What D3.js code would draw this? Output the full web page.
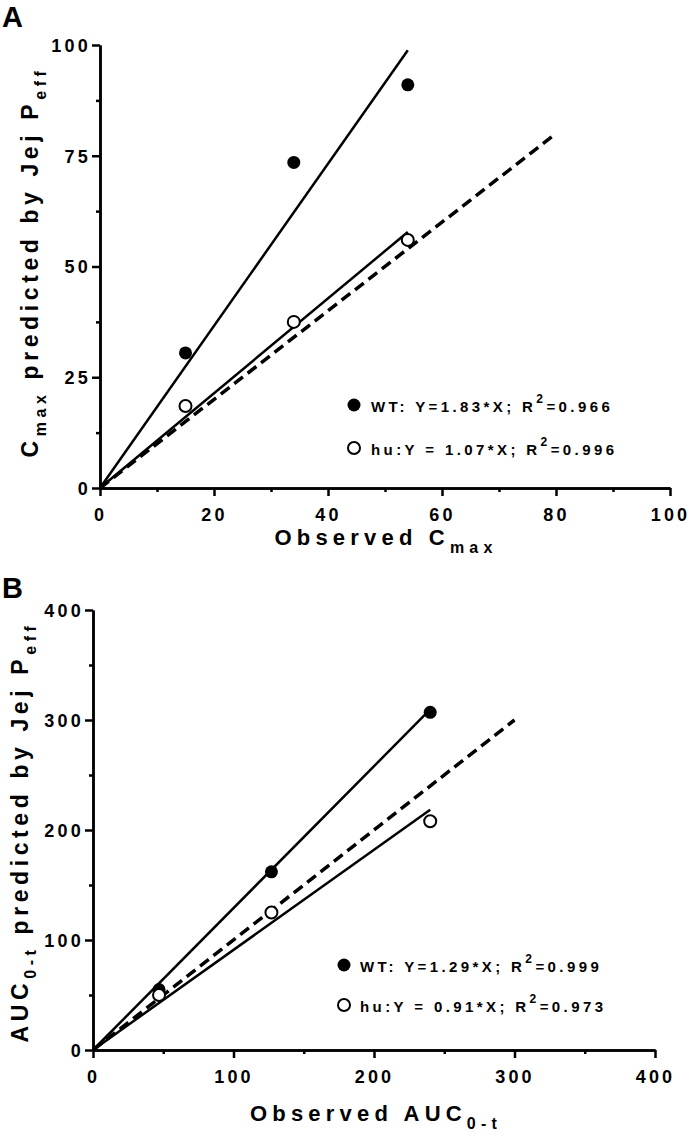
<!DOCTYPE html>
<html><head><meta charset="utf-8">
<script src="https://cdn.jsdelivr.net/npm/d3@7"></script>
<style>
body{margin:0;background:#fff;}
text{font-family:"Liberation Sans",Arial,sans-serif;font-weight:bold;fill:#000;}
</style></head>
<body>
<svg id="c" width="690" height="1136"></svg>
<script>
// Panel A data (Cmax)
const aObserved = [15, 34, 54];
const aWT = [30.5, 73.5, 91];
const aHu = [18.5, 37.5, 56];
const aSlopeWT = 1.83, aSlopeHu = 1.07;
const aFitEnd = 54, aIdentityEnd = 80;
const aTicks = [0, 20, 40, 60, 80, 100];
const aYTicks = [0, 25, 50, 75, 100];
// Panel B data (AUC)
const bObserved = [47, 127, 240];
const bWT = [55, 162, 307];
const bHu = [50, 125, 208];
const bSlopeWT = 1.29, bSlopeHu = 0.91;
const bFitEnd = 240, bIdentityEnd = 300;
const bTicks = [0, 100, 200, 300, 400];
const bYTicks = [0, 100, 200, 300, 400];
const legendA = ["WT: Y=1.83*X; R", "=0.966", "hu:Y = 1.07*X; R", "=0.996"];
const legendB = ["WT: Y=1.29*X; R", "=0.999", "hu:Y = 0.91*X; R", "=0.973"];

const svg = d3.select("#c");

function panel(cfg){
  const g = svg.append("g");
  const x = d3.scaleLinear().domain([0, cfg.max]).range([cfg.x0, cfg.x1]);
  const y = d3.scaleLinear().domain([0, cfg.max]).range([cfg.y0, cfg.y1]);
  const xMinor = d3.range(0, cfg.max + 0.001, cfg.xMinorStep).filter(v => !cfg.xTicks.includes(v));
  const yMinor = d3.range(0, cfg.max + 0.001, cfg.yMinorStep).filter(v => !cfg.yTicks.includes(v));
  const ax = g.append("g").attr("transform", `translate(0,${cfg.y0})`)
    .call(d3.axisBottom(x).tickValues(cfg.xTicks).tickSize(8).tickSizeOuter(0).tickPadding(12).tickFormat(d3.format("d")));
  g.append("g").attr("transform", `translate(0,${cfg.y0})`)
    .call(d3.axisBottom(x).tickValues(xMinor).tickSize(4).tickSizeOuter(0).tickFormat(""));
  const ay = g.append("g").attr("transform", `translate(${cfg.x0},0)`)
    .call(d3.axisLeft(y).tickValues(cfg.yTicks).tickSize(8).tickSizeOuter(0).tickPadding(1).tickFormat(d3.format("d")));
  g.append("g").attr("transform", `translate(${cfg.x0},0)`)
    .call(d3.axisLeft(y).tickValues(yMinor).tickSize(4).tickSizeOuter(0).tickFormat(""));
  g.selectAll(".domain").attr("stroke", "#000").attr("stroke-width", 2.5);
  g.selectAll(".tick line").attr("stroke", "#000").attr("stroke-width", 2.5);
  g.selectAll(".tick text")
    .style("font-size", "18px").style("letter-spacing", "3.2px")
    .style("font-family", "'Liberation Sans', Arial, sans-serif").style("font-weight", "bold").style("fill", "#000");
  ax.selectAll(".tick text").attr("dx", 0);
  ay.selectAll(".tick text").attr("dy", "0.36em");

  // identity dashed
  g.append("line").attr("x1", x(0)).attr("y1", y(0)).attr("x2", x(cfg.idEnd)).attr("y2", y(cfg.idEnd))
    .attr("stroke", "#000").attr("stroke-width", 3.5).attr("stroke-dasharray", "11,6");
  // fits
  [cfg.sWT, cfg.sHu].forEach(s => {
    g.append("line").attr("x1", x(0)).attr("y1", y(0)).attr("x2", x(cfg.fitEnd)).attr("y2", y(s * cfg.fitEnd))
      .attr("stroke", "#000").attr("stroke-width", 2.5);
  });
  // points
  g.selectAll(".wt").data(cfg.obs.map((o, i) => [o, cfg.wt[i]])).enter().append("circle")
    .attr("cx", d => x(d[0])).attr("cy", d => y(d[1])).attr("r", 6.5).attr("fill", "#000");
  g.selectAll(".hu").data(cfg.obs.map((o, i) => [o, cfg.hu[i]])).enter().append("circle")
    .attr("cx", d => x(d[0])).attr("cy", d => y(d[1])).attr("r", 6).attr("fill", "#fff")
    .attr("stroke", "#000").attr("stroke-width", 2);

  // legend
  const L = cfg.leg;
  g.append("circle").attr("cx", L.cx).attr("cy", L.y1 - 7).attr("r", 6.5).attr("fill", "#000");
  g.append("circle").attr("cx", L.cx).attr("cy", L.y2 - 7).attr("r", 6).attr("fill", "#fff").attr("stroke", "#000").attr("stroke-width", 2);
  [[L.y1, cfg.legText[0], cfg.legText[1]], [L.y2, cfg.legText[2], cfg.legText[3]]].forEach(([yy, a, b]) => {
    const t = g.append("text").attr("x", L.tx).attr("y", yy).style("font-size", "15px").style("letter-spacing", "3.4px");
    t.append("tspan").text(a);
    t.append("tspan").attr("dy", -9).style("font-size", "12px").text("2");
    t.append("tspan").attr("dy", 9).text(b);
  });

  // x title
  const xt = g.append("text").attr("x", cfg.xtX).attr("y", cfg.xtY).attr("text-anchor", "middle")
    .style("font-size", "22px").style("letter-spacing", "5.2px");
  xt.append("tspan").text(cfg.xt[0]);
  xt.append("tspan").attr("dy", 8).style("font-size", "16px").text(cfg.xt[1]);
  // y title
  const yt = g.append("text").attr("transform", `translate(${cfg.ytX},${cfg.ytY}) rotate(-90)`)
    .attr("text-anchor", "middle").style("font-size", "23px").style("letter-spacing", "4.6px");
  yt.append("tspan").text(cfg.yt[0]);
  yt.append("tspan").attr("dy", 8).style("font-size", "16px").text(cfg.yt[1]);
  yt.append("tspan").attr("dy", -8).text(cfg.yt[2]);
  yt.append("tspan").attr("dy", 8).style("font-size", "16px").text(cfg.yt[3]);
  // panel letter
  g.append("text").attr("x", cfg.letX).attr("y", cfg.letY).style("font-size", "29px").text(cfg.letter);
}

panel({max: 100, x0: 100, x1: 670, y0: 488, y1: 45, xTicks: aTicks, yTicks: aYTicks,
  xMinorStep: 10, yMinorStep: 12.5, obs: aObserved, wt: aWT, hu: aHu, sWT: aSlopeWT, sHu: aSlopeHu,
  fitEnd: aFitEnd, idEnd: aIdentityEnd, legText: legendA,
  leg: {cx: 354, tx: 371, y1: 412, y2: 455},
  xt: ["Observed C", "max"], xtX: 386, xtY: 545,
  yt: ["C", "max", " predicted by Jej P", "eff"], ytX: 38, ytY: 262,
  letter: "A", letX: 2, letY: 27});

panel({max: 400, x0: 93, x1: 655, y0: 1050, y1: 610, xTicks: bTicks, yTicks: bYTicks,
  xMinorStep: 50, yMinorStep: 50, obs: bObserved, wt: bWT, hu: bHu, sWT: bSlopeWT, sHu: bSlopeHu,
  fitEnd: bFitEnd, idEnd: bIdentityEnd, legText: legendB,
  leg: {cx: 344, tx: 360, y1: 972, y2: 1012},
  xt: ["Observed AUC", "0-t"], xtX: 376, xtY: 1121,
  yt: ["AUC", "0-t", " predicted by Jej P", "eff"], ytX: 28, ytY: 832,
  letter: "B", letX: 2, letY: 598});
</script>
</body></html>
